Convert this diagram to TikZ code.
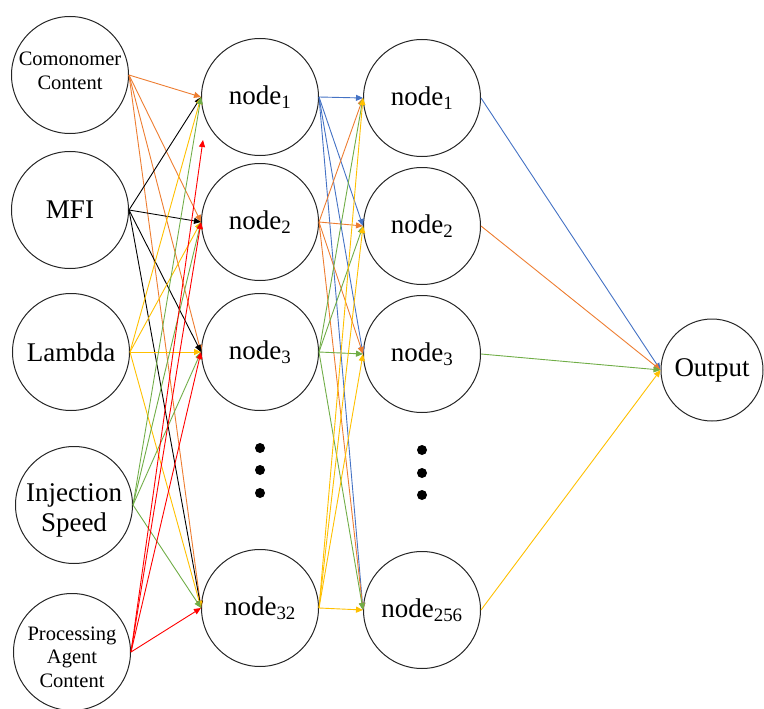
\documentclass[tikz,border=0pt]{standalone}
\usepackage{fontspec}
\setmainfont{Liberation Serif}
\usetikzlibrary{arrows.meta}
\definecolor{blueC}{HTML}{4472C4}
\definecolor{orangeC}{HTML}{ED7D31}
\definecolor{greenC}{HTML}{70AD47}
\definecolor{goldC}{HTML}{FFC000}
\definecolor{redC}{HTML}{FF0000}
\newcommand{\stack}[2]{\raisebox{#1}[0pt][0pt]{\setlength\tabcolsep{0pt}\begin{tabular}{c}#2\end{tabular}}}
\begin{document}
\begin{tikzpicture}[x=1pt,y=-1pt,
  neuron/.style={draw=black!85, circle, line width=1pt, minimum size=117pt, inner sep=0pt, align=center, font=\fontsize{27}{30}\selectfont},
  smalltext/.style={font=\fontsize{20.5}{23.5}\selectfont},
  conn/.style={line width=0.9pt, -{Triangle[length=7pt,width=6pt]}},
  dot/.style={fill=black, circle, inner sep=0pt, minimum size=10pt}]
\useasboundingbox (0,0) rectangle (764,709);
% input layer
\node[neuron, smalltext] (i1) at (70,75) {\stack{-3pt}{Comonomer\\Content}};
\node[neuron] (i2) at (70,210) {MFI};
\node[neuron] (i3) at (71,352) {Lambda};
\node[neuron] (i4) at (74,505) {\stack{-12pt}{Injection\\Speed}};
\node[neuron, smalltext] (i5) at (72,652) {\stack{-12pt}{Processing\\Agent\\Content}};
% hidden layer 1
\node[neuron] (a1) at (260,97) {node\textsubscript{1}};
\node[neuron] (a2) at (260,222) {node\textsubscript{2}};
\node[neuron] (a3) at (260,352) {node\textsubscript{3}};
\node[neuron] (a4) at (260,608) {node\textsubscript{32}};
\node[dot] (ad1) at (260,448) {};
\node[dot] (ad2) at (260,470) {};
\node[dot] (ad3) at (260,493) {};
% hidden layer 2
\node[neuron] (b1) at (422,98) {node\textsubscript{1}};
\node[neuron] (b2) at (422,226) {node\textsubscript{2}};
\node[neuron] (b3) at (422,354) {node\textsubscript{3}};
\node[neuron] (b4) at (422,610) {node\textsubscript{256}};
\node[dot] (bd1) at (422,450) {};
\node[dot] (bd2) at (422,473) {};
\node[dot] (bd3) at (422,495) {};
% output
\node[neuron, minimum size=102pt] (o) at (712,370) {Output};
\coordinate (redend) at (203,140);
% input -> hidden 1
\foreach \t in {a1,a2,a3,a4} \draw[conn, orangeC] (i1.east) -- (\t.west);
\foreach \t in {a1,a2,a3,a4} \draw[conn, black] (i2.east) -- (\t.west);
\foreach \t in {a1,a2,a3,a4} \draw[conn, goldC] (i3.east) -- (\t.west);
\foreach \t in {a1,a2,a3,a4} \draw[conn, greenC] (i4.east) -- (\t.west);
\draw[conn, redC] (i5.east) -- (redend);
\foreach \t in {a2,a3,a4} \draw[conn, redC] (i5.east) -- (\t.west);
% hidden 1 -> hidden 2
\foreach \t in {b1,b2,b3,b4} \draw[conn, blueC] (a1.east) -- (\t.west);
\foreach \t in {b1,b2,b3,b4} \draw[conn, orangeC] (a2.east) -- (\t.west);
\foreach \t in {b1,b2,b3,b4} \draw[conn, greenC] (a3.east) -- (\t.west);
\foreach \t in {b1,b2,b3,b4} \draw[conn, goldC] (a4.east) -- (\t.west);
% hidden 2 -> output
\draw[conn, blueC] (b1.east) -- (o.west);
\draw[conn, orangeC] (b2.east) -- (o.west);
\draw[conn, greenC] (b3.east) -- (o.west);
\draw[conn, goldC] (b4.east) -- (o.west);
\end{tikzpicture}
\end{document}
